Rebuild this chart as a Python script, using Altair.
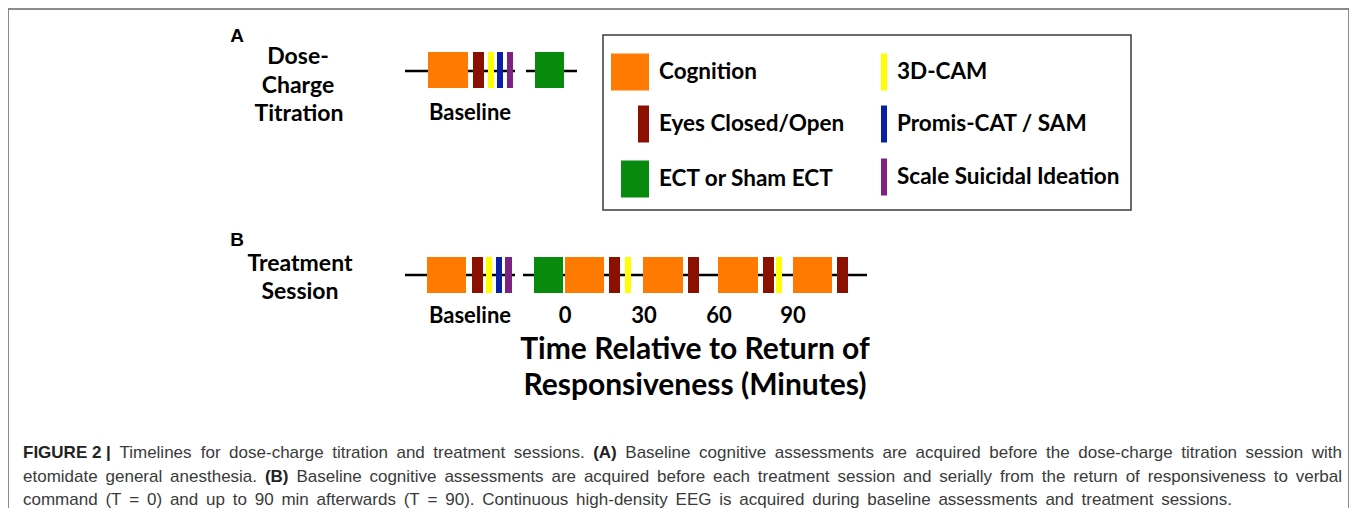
import altair as alt
import pandas as pd

# ---------------- data ----------------
categories = ["Cognition", "Eyes Closed/Open", "ECT or Sham ECT",
              "3D-CAM", "Promis-CAT / SAM", "Scale Suicidal Ideation"]
cat_colors = ["#FF7A00", "#8C1000", "#078A0E", "#FFFF00", "#0A1FA8", "#7D2283"]

# Panel A: dose-charge titration timeline (timeline units)
a_type = ["Cognition", "Eyes Closed/Open", "3D-CAM", "Promis-CAT / SAM",
          "Scale Suicidal Ideation", "ECT or Sham ECT"]
a_start = [428, 473, 488, 497, 507, 535]
a_end = [468, 484, 494, 503, 513, 564]
a_line_start = [405, 526]
a_line_end = [515, 577]

# Panel B: treatment session timeline
b_type = ["Cognition", "Eyes Closed/Open", "3D-CAM", "Promis-CAT / SAM",
          "Scale Suicidal Ideation", "ECT or Sham ECT",
          "Cognition", "Eyes Closed/Open", "3D-CAM",
          "Cognition", "Eyes Closed/Open",
          "Cognition", "Eyes Closed/Open", "3D-CAM",
          "Cognition", "Eyes Closed/Open"]
b_start = [427, 472, 486, 496, 505, 534, 565, 609, 625, 643, 688, 718, 763, 776, 793, 837]
b_end = [466, 483, 492, 502, 512, 563, 604, 620, 631, 683, 699, 758, 774, 782, 832, 848]
b_line_start = [405, 523]
b_line_end = [515, 867]

b_tick_labels = ["Baseline", "0", "30", "60", "90"]
b_tick_pos = [470, 565, 644, 719, 793]

# caption: (text, weight) segments per line
caption_lines = [
    [("FIGURE 2 |", "bold"),
     ("Timelines for dose-charge titration and treatment sessions.", "normal"),
     ("(A)", "bold"),
     ("Baseline cognitive assessments are acquired before the dose-charge titration session with", "normal")],
    [("etomidate general anesthesia.", "normal"),
     ("(B)", "bold"),
     ("Baseline cognitive assessments are acquired before each treatment session and serially from the return of responsiveness to verbal", "normal")],
    [("command (T = 0) and up to 90 min afterwards (T = 90). Continuous high-density EEG is acquired during baseline assessments and treatment sessions.", "normal")],
]

# ---------------- layout (page pixels) ----------------
W, H = 1341, 500
XS = alt.Scale(domain=[8, 8 + W], nice=False, zero=False)
YS = alt.Scale(domain=[8, 8 + H], nice=False, zero=False, reverse=True)
CS = alt.Scale(domain=categories, range=cat_colors)
BOLD = "Lato"
CAP_FONT = "Liberation Sans"
A_Y, B_Y, HALF = 70, 275, 18
CAP_FS = 17
caption_y = [453, 477, 500]
caption_left = 23
caption_right = [1342, 1342, 1232]

# Arial/Liberation Sans advance widths (1/1000 em) used for justification
_W = {' ': 278, '(': 333, ')': 333, '-': 333, '.': 278, ',': 278, '=': 584, '|': 260, '/': 278,
      '0': 556, '1': 556, '2': 556, '3': 556, '4': 556, '5': 556, '6': 556, '7': 556, '8': 556, '9': 556,
      'A': 667, 'B': 667, 'C': 722, 'D': 722, 'E': 667, 'F': 611, 'G': 778, 'H': 722, 'I': 278,
      'J': 500, 'K': 667, 'L': 556, 'M': 833, 'N': 722, 'O': 778, 'P': 667, 'Q': 778, 'R': 722,
      'S': 667, 'T': 611, 'U': 722, 'V': 667, 'W': 944, 'X': 667, 'Y': 667, 'Z': 611,
      'a': 556, 'b': 556, 'c': 500, 'd': 556, 'e': 556, 'f': 278, 'g': 556, 'h': 556, 'i': 222,
      'j': 222, 'k': 500, 'l': 222, 'm': 833, 'n': 556, 'o': 556, 'p': 556, 'q': 556, 'r': 333,
      's': 500, 't': 278, 'u': 556, 'v': 500, 'w': 722, 'x': 500, 'y': 500, 'z': 500}
_WB = {'A': 722, 'B': 722, 'E': 667, 'F': 611, 'G': 778, 'I': 278, 'R': 722, 'U': 722,
       '(': 333, ')': 333, '|': 280, ' ': 278, '2': 556}


def text_w(s, bold):
    tot = 0
    for ch in s:
        tot += (_WB.get(ch, _W.get(ch, 556) * 1.05) if bold else _W.get(ch, 556))
    return tot * CAP_FS / 1000.0


cap_rows = []
for li, segs in enumerate(caption_lines):
    words = []
    for t, w in segs:
        if t == "FIGURE 2 |":
            words.append((t, w))
        else:
            for piece in t.split(" "):
                words.append((piece, w))
    widths = [text_w(t, w == "bold") for t, w in words]
    gap = (caption_right[li] - caption_left - sum(widths)) / max(len(words) - 1, 1)
    x = caption_left
    for (t, w), wd in zip(words, widths):
        cap_rows.append({"text": t, "w": w, "x": x, "y": caption_y[li]})
        x += wd + gap
cap = pd.DataFrame(cap_rows)


def X(f):
    return alt.X(f, type="quantitative", scale=XS, axis=None)


def Y(f):
    return alt.Y(f, type="quantitative", scale=YS, axis=None)


def events(types, starts, ends, yc):
    return pd.DataFrame({"type": types, "x0": starts, "x1": ends,
                         "y0": [yc - HALF] * len(types), "y1": [yc + HALF] * len(types)})


ev = pd.concat([events(a_type, a_start, a_end, A_Y),
                events(b_type, b_start, b_end, B_Y)])

lines = pd.DataFrame({
    "x0": a_line_start + b_line_start,
    "x1": a_line_end + b_line_end,
    "y": [A_Y + 1] * 2 + [B_Y] * 2})

line_layer = alt.Chart(lines).mark_rule(color="black", strokeWidth=2.5).encode(
    x=X("x0"), x2="x1", y=Y("y"))

block_layer = alt.Chart(ev).mark_rect().encode(
    x=X("x0"), x2="x1", y=Y("y0"), y2="y1",
    color=alt.Color("type:N", scale=CS, legend=None))

# legend box
leg_x0 = [611, 638, 621, 881, 881, 881]
leg_x1 = [649, 649, 649, 887, 887, 887]
leg_yc = [72, 124, 179, 72, 124, 177]
leg_tx = [659, 659, 659, 897, 897, 897]
leg = pd.DataFrame({"type": categories, "x0": leg_x0, "x1": leg_x1,
                    "y0": [c - 18.5 for c in leg_yc], "y1": [c + 18.5 for c in leg_yc],
                    "tx": leg_tx, "ty": leg_yc})
leg_box = alt.Chart(pd.DataFrame({"x0": [603], "x1": [1131], "y0": [35], "y1": [210]})).mark_rect(
    fill=None, stroke="#3a3a3a", strokeWidth=1.5).encode(
    x=X("x0"), x2="x1", y=Y("y0"), y2="y1")
leg_sw = alt.Chart(leg).mark_rect().encode(
    x=X("x0"), x2="x1", y=Y("y0"), y2="y1",
    color=alt.Color("type:N", scale=CS, legend=None))
leg_tx_layer = alt.Chart(leg).mark_text(
    align="left", baseline="middle", font=BOLD, fontWeight="bold", fontSize=22.5, color="black").encode(
    x=X("tx"), y=Y("ty"), text="type:N")

# frame
frame = pd.DataFrame({"x0": [8, 8, 1349], "x1": [1349, 8, 1349], "y0": [9, 9, 9], "y1": [9, 520, 520]})
frame_layer = alt.Chart(frame).mark_rule(color="#666666", strokeWidth=1.5).encode(
    x=X("x0"), x2="x1", y=Y("y0"), y2="y1")

# diagram labels
side = pd.DataFrame({
    "text": ["Dose-", "Charge", "Titration", "Treatment", "Session"],
    "x": [298, 298, 299, 300, 300],
    "y": [57, 86, 114, 264, 292]})
side_layer = alt.Chart(side).mark_text(
    align="center", baseline="middle", font=BOLD, fontWeight="bold", fontSize=23, color="black").encode(
    x=X("x"), y=Y("y"), text="text:N")

ticks = pd.DataFrame({
    "text": ["Baseline"] + b_tick_labels,
    "x": [470] + b_tick_pos,
    "y": [113] + [316] * len(b_tick_labels)})
tick_layer = alt.Chart(ticks).mark_text(
    align="center", baseline="middle", font=BOLD, fontWeight="bold", fontSize=22, color="black").encode(
    x=X("x"), y=Y("y"), text="text:N")

panel_letters = pd.DataFrame({"text": ["A", "B"], "x": [237, 237], "y": [36, 240]})
letter_layer = alt.Chart(panel_letters).mark_text(
    align="center", baseline="middle", font="Liberation Sans", fontWeight="bold", fontSize=19,
    color="black").encode(x=X("x"), y=Y("y"), text="text:N")

title_df = pd.DataFrame({"text": ["Time Relative to Return of", "Responsiveness (Minutes)"],
                         "x": [695, 695], "y": [350, 386]})
title_layer = alt.Chart(title_df).mark_text(
    align="center", baseline="middle", font=BOLD, fontWeight="bold", fontSize=30, color="black").encode(
    x=X("x"), y=Y("y"), text="text:N")

cap_normal = alt.Chart(cap[cap.w == "normal"]).mark_text(
    align="left", baseline="middle", font=CAP_FONT, fontSize=CAP_FS, color="#3a3a3a").encode(
    x=X("x"), y=Y("y"), text="text:N")
cap_bold = alt.Chart(cap[cap.w == "bold"]).mark_text(
    align="left", baseline="middle", font=CAP_FONT, fontSize=CAP_FS, fontWeight="bold",
    color="#222222").encode(x=X("x"), y=Y("y"), text="text:N")

chart = alt.layer(
    frame_layer, line_layer, block_layer, leg_box, leg_sw, leg_tx_layer,
    side_layer, tick_layer, letter_layer, title_layer, cap_normal, cap_bold
).properties(width=W, height=H, autosize="none", padding=0).configure_view(stroke=None)

chart.save("out.html", embed_options={"renderer": "svg", "actions": False})
